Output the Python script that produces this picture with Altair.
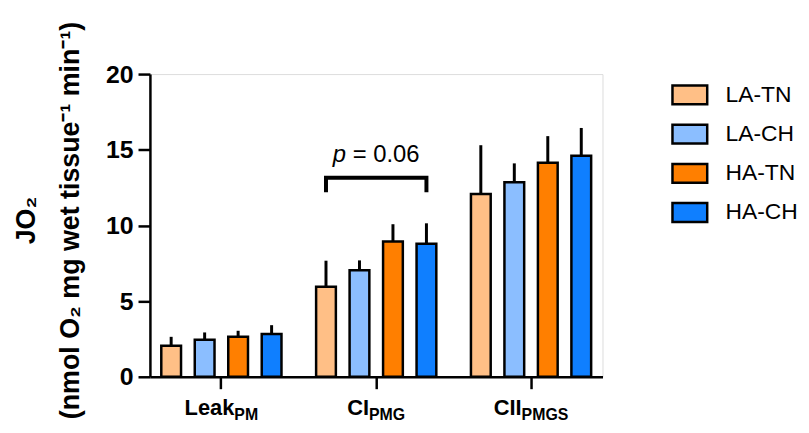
import altair as alt
import pandas as pd

# ---------------- data ----------------
GROUPS = ["Leak", "CI", "CII"]
GROUP_SUBS = ["PM", "PMG", "PMGS"]
SERIES = ["LA-TN", "LA-CH", "HA-TN", "HA-CH"]
COLORS = ["#FFBF86", "#8BBEFF", "#FF7F00", "#0F7FFF"]

MEANS = {
    "LA-TN": [2.05, 5.95, 12.07],
    "LA-CH": [2.45, 7.04, 12.85],
    "HA-TN": [2.64, 8.94, 14.14],
    "HA-CH": [2.82, 8.79, 14.60],
}
UPPER = {
    "LA-TN": [2.64, 7.67, 15.30],
    "LA-CH": [2.93, 7.69, 14.10],
    "HA-TN": [3.04, 10.08, 15.90],
    "HA-CH": [3.41, 10.14, 16.44],
}

Y_TICKS = [0, 5, 10, 15, 20]
Y_TITLE = ["JO\u2082", "(nmol O\u2082 mg wet tissue\u207b\u00b9 min\u207b\u00b9)"]

BRACKET_GROUP = "CI"
BRACKET_TOP = 13.15
BRACKET_BOTTOM = 12.2
P_LABEL_Y = 14.2
P_TEXT = "p"
P_REST = "= 0.06"

FONT = "Liberation Sans, Arial, Helvetica, sans-serif"
MAIN_SIZE = 22
SUB_SIZE = 16

# Arial Bold advance widths (em) for label centring
W = {"L": .611, "e": .556, "a": .556, "k": .556, "C": .722, "I": .278,
     "P": .667, "M": .833, "G": .778, "S": .667}


def width(s, size):
    return sum(W.get(c, .6) for c in s) * size


rows = []
for s in SERIES:
    for g, m, u in zip(GROUPS, MEANS[s], UPPER[s]):
        rows.append({"group": g, "series": s, "mean": m, "upper": u})
df = pd.DataFrame(rows)

lab = pd.DataFrame({
    "group": GROUPS,
    "main": GROUPS,
    "sub": GROUP_SUBS,
})
lab["dx"] = [(width(m, MAIN_SIZE) - width(s, SUB_SIZE)) / 2 for m, s in zip(GROUPS, GROUP_SUBS)]

bracket = pd.DataFrame({
    "group": [BRACKET_GROUP] * 4,
    "series": [SERIES[0], SERIES[0], SERIES[-1], SERIES[-1]],
    "y": [BRACKET_BOTTOM, BRACKET_TOP, BRACKET_TOP, BRACKET_BOTTOM],
    "order": [0, 1, 2, 3],
})
ptext = pd.DataFrame({"group": [BRACKET_GROUP], "y": [P_LABEL_Y]})

PLOT_W, PLOT_H = 456, 305

x_enc = alt.X("group:N", sort=GROUPS,
              scale=alt.Scale(paddingInner=0.135, paddingOuter=0.029),
              axis=alt.Axis(title=None, labels=False, ticks=True, tickSize=12,
                            tickWidth=2.5, domainWidth=2.5, domainColor="black",
                            tickColor="black", grid=False))
xo_enc = alt.XOffset("series:N", sort=SERIES,
                     scale=alt.Scale(paddingInner=0.41, paddingOuter=0.205))
y_scale = alt.Scale(domain=[0, 20], nice=False, zero=True)
y_axis = alt.Axis(values=Y_TICKS, title=Y_TITLE, grid=False,
                  labelFont=FONT, labelFontSize=25, labelFontWeight="bold",
                  labelColor="black", labelPadding=5,
                  tickSize=12, tickWidth=2.5, tickColor="black",
                  domainWidth=2.5, domainColor="black",
                  titleFont=FONT, titleFontSize=27, titleFontWeight="bold",
                  titleColor="black", titleAngle=270, titleAlign="center",
                  titleBaseline="top", titleX=-137, titleY=147,
                  titleLineHeight=44)

color = alt.Color("series:N", sort=SERIES,
                  scale=alt.Scale(domain=SERIES, range=COLORS),
                  legend=alt.Legend(
                      title=None, orient="none", legendX=525, legendY=2,
                      symbolType="M-1,-0.543L1,-0.543L1,0.543L-1,0.543Z",
                      symbolSize=1225, symbolStrokeColor="black",
                      symbolStrokeWidth=2.5, symbolOpacity=1,
                      labelFont=FONT, labelFontSize=23, labelColor="black",
                      labelOffset=17, rowPadding=5.5, padding=0))

bars = alt.Chart(df).mark_bar(stroke="black", strokeWidth=2.5, opacity=1).encode(
    x=x_enc, xOffset=xo_enc,
    y=alt.Y("mean:Q", scale=y_scale, axis=y_axis),
    color=color,
)

errs = alt.Chart(df).mark_rule(color="black", strokeWidth=3).encode(
    x=alt.X("group:N", sort=GROUPS), xOffset=alt.XOffset("series:N", sort=SERIES),
    y=alt.Y("mean:Q"), y2="upper:Q",
)

br = alt.Chart(bracket).mark_line(color="black", strokeWidth=4, strokeJoin="miter").encode(
    x=alt.X("group:N", sort=GROUPS), xOffset=alt.XOffset("series:N", sort=SERIES),
    y=alt.Y("y:Q"), order="order:Q",
)

p1 = alt.Chart(ptext).mark_text(text=P_TEXT, font=FONT, fontSize=24, fontStyle="italic",
                                align="left", baseline="alphabetic", dx=-43.7,
                                color="black").encode(
    x=alt.X("group:N", sort=GROUPS), y=alt.Y("y:Q"))
p2 = alt.Chart(ptext).mark_text(text=P_REST, font=FONT, fontSize=24,
                                align="left", baseline="alphabetic", dx=-23.7,
                                color="black").encode(
    x=alt.X("group:N", sort=GROUPS), y=alt.Y("y:Q"))

main_lab = alt.Chart(lab).mark_text(font=FONT, fontSize=MAIN_SIZE, fontWeight="bold",
                                    align="right", baseline="alphabetic",
                                    dx=alt.expr("datum.dx"), color="black").encode(
    x=alt.X("group:N", sort=GROUPS), y=alt.value(PLOT_H + 39), text="main:N")
sub_lab = alt.Chart(lab).mark_text(font=FONT, fontSize=SUB_SIZE, fontWeight="bold",
                                   align="left", baseline="alphabetic",
                                   dx=alt.expr("datum.dx"), color="black").encode(
    x=alt.X("group:N", sort=GROUPS), y=alt.value(PLOT_H + 44), text="sub:N")

chart = alt.layer(bars, errs, br, p1, p2, main_lab, sub_lab).properties(
    width=PLOT_W, height=PLOT_H,
    autosize=alt.AutoSizeParams(type="none"),
    padding={"left": 143, "top": 65, "right": 200, "bottom": 47},
).configure_view(stroke=None).configure(background="white")

chart.save("out.html", embed_options={"renderer": "svg", "actions": False})
